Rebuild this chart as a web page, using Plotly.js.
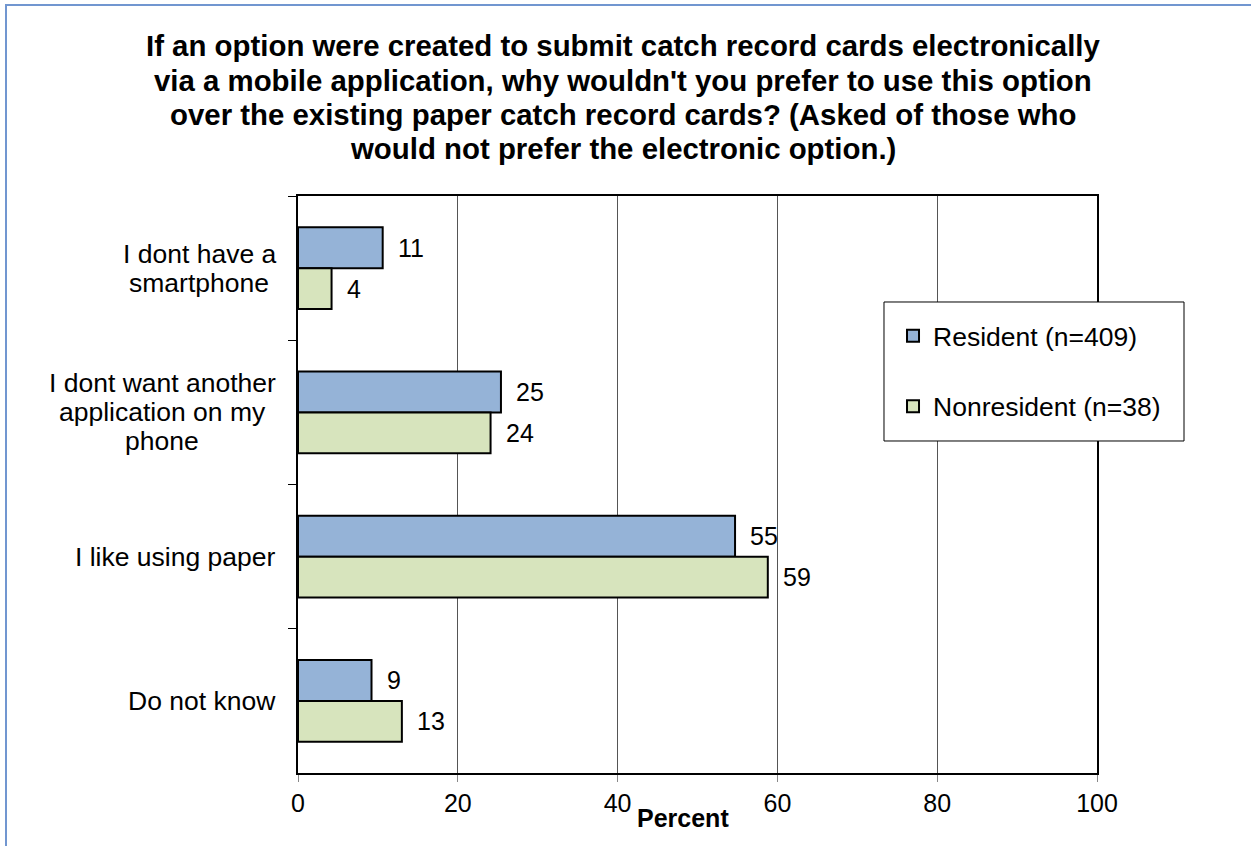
<!DOCTYPE html>
<html>
<head>
<meta charset="utf-8">
<script src="https://cdn.plot.ly/plotly-3.0.1.min.js"></script>
<style>
  html, body { margin: 0; padding: 0; overflow: hidden; background: #fff; }
  #chart { width: 1251px; height: 846px; }
  #frame { position: absolute; left: 5px; top: 4px; width: 2000px; height: 2000px;
           border-left: 2px solid #7196d0; border-top: 2px solid #7196d0; pointer-events: none; z-index: 10; }
</style>
</head>
<body>
<div id="chart"></div>
<div id="frame"></div>
<script>
// ---- data ----
const categories = ["I dont have a smartphone", "I dont want another application on my phone", "I like using paper", "Do not know"];
const categoryLabelLines = [["I dont have a", "smartphone"], ["I dont want another", "application on my", "phone"], ["I like using paper"], ["Do not know"]];
const residentValues = [10.6, 25.4, 54.7, 9.2];
const nonresidentValues = [4.2, 24.1, 58.8, 13.0];
const seriesNames = ["Resident (n=409)", "Nonresident (n=38)"];
const titleLines = [
  "If an option were created to submit catch record cards electronically",
  "via a mobile application, why wouldn't you prefer to use this option",
  "over the existing paper catch record cards? (Asked of those who",
  "would not prefer the electronic option.)"
];
const xTickValues = [0, 20, 40, 60, 80, 100];
const xAxisTitle = "Percent";

// ---- styling ----
const FONT = '"Liberation Sans", Arial, sans-serif';
const colors = ["#95b3d7", "#d7e4bd"];

const traces = [residentValues, nonresidentValues].map((vals, i) => ({
  type: 'bar',
  orientation: 'h',
  name: seriesNames[i],
  legendgroup: 'g' + i,
  y: categories,
  x: vals,
  marker: { color: colors[i], line: { color: '#000', width: 2 } },
  hoverinfo: 'x+name'
}));

const annotations = [];
// title lines
const titleY = [1.260, 1.201, 1.142, 1.083];
titleLines.forEach((t, i) => annotations.push({
  text: t, xref: 'paper', yref: 'paper', x: 0.4068, y: titleY[i],
  xanchor: 'center', yanchor: 'middle', showarrow: false,
  font: { family: FONT, size: 29.4, color: '#000', weight: 'bold' }
}));
// category labels (one annotation per line, centred on each other)
const LABEL_LINE = 29;
categories.forEach((c, i) => {
  const lines = categoryLabelLines[i];
  const mid = (lines.length - 1) / 2;
  lines.forEach((ln, k) => annotations.push({
    text: ln, xref: 'paper', yref: 'y', x: -0.026, y: c,
    xanchor: 'center', yanchor: 'middle', showarrow: false,
    yshift: (mid - k) * LABEL_LINE,
    font: { family: FONT, size: 26.5, color: '#000' },
    _block: i
  }));
});
// value labels
[residentValues, nonresidentValues].forEach((vals, s) => {
  vals.forEach((v, i) => annotations.push({
    text: String(Math.round(v)), xref: 'x', yref: 'y', x: v, y: categories[i],
    xanchor: 'left', yanchor: 'middle', xshift: 13, yshift: s === 0 ? 20.4 : -20.4,
    showarrow: false, font: { family: FONT, size: 25, color: '#000' }
  }));
});
// x axis title
annotations.push({
  text: xAxisTitle, xref: 'paper', yref: 'paper', x: 0.482, y: -0.078,
  xanchor: 'center', yanchor: 'middle', showarrow: false,
  font: { family: FONT, size: 25, color: '#000', weight: 'bold' }
});

const layout = {
  width: 1251, height: 846,
  margin: { l: 298, r: 154, t: 196, b: 73, pad: 0 },
  paper_bgcolor: '#fff', plot_bgcolor: '#fff',
  font: { family: FONT, size: 25, color: '#000' },
  barmode: 'group',
  bargap: 0.434,
  bargroupgap: 0,
  showlegend: true,
  legend: {
    x: 0.7447, y: 0.799, xanchor: 'left', yanchor: 'top',
    bgcolor: 'rgba(0,0,0,0)', borderwidth: 0,
    font: { family: FONT, size: 26.5, color: '#000' },
    tracegroupgap: 33, traceorder: 'grouped'
  },
  xaxis: {
    range: [0, 100], tickvals: xTickValues, ticktext: xTickValues.map(String),
    showgrid: true, gridcolor: '#555', gridwidth: 1, zeroline: false,
    showline: true, linecolor: '#000', linewidth: 2, mirror: true,
    ticks: 'outside', ticklen: 7, tickcolor: '#888', tickwidth: 1,
    tickfont: { family: FONT, size: 25, color: '#000' }, fixedrange: true
  },
  yaxis: {
    type: 'category', autorange: 'reversed',
    showgrid: false, zeroline: false,
    showline: true, linecolor: '#000', linewidth: 2, mirror: true,
    ticks: 'outside', tickson: 'boundaries', ticklen: 8, tickcolor: '#000', tickwidth: 1,
    showticklabels: false, fixedrange: true
  },
  shapes: [{
    type: 'rect', xref: 'paper', yref: 'paper', layer: 'above',
    x0: 0.7334, x1: 1.1089, y0: 0.5754, y1: 0.8163,
    fillcolor: '#fff', line: { color: '#000', width: 1 }
  }],
  annotations: []
};

// category label lines are centred on a common axis; the block's right edge sits near the y-axis.
const LABEL_RIGHT_PX = 276;
const PLOT_LEFT = layout.margin.l;
const PLOT_W = layout.width - layout.margin.l - layout.margin.r;
layout.annotations = annotations.map(a => { const b = Object.assign({}, a); delete b._block; return b; });

Plotly.newPlot('chart', traces, layout, { displayModeBar: false, staticPlot: true }).then(gd => {
  const nodes = gd.querySelectorAll('.annotation');
  const widths = {};
  annotations.forEach((a, idx) => {
    if (a._block === undefined) return;
    const t = nodes[idx] && nodes[idx].querySelector('text');
    const w = t ? t.getBBox().width : 0;
    widths[a._block] = Math.max(widths[a._block] || 0, w);
  });
  const upd = {};
  annotations.forEach((a, idx) => {
    if (a._block === undefined) return;
    const centrePx = LABEL_RIGHT_PX - widths[a._block] / 2;
    upd['annotations[' + idx + '].x'] = (centrePx - PLOT_LEFT) / PLOT_W;
  });
  return Plotly.relayout(gd, upd);
});
</script>
</body>
</html>
